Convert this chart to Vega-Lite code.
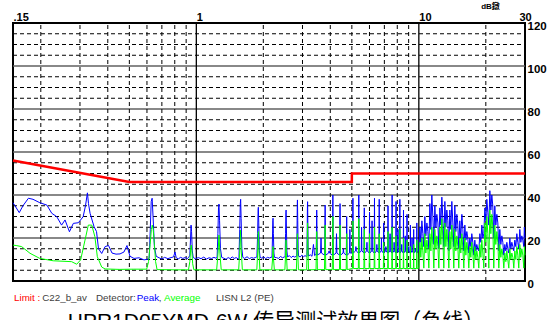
{
"$schema": "https://vega.github.io/schema/vega-lite/v6.json",
"width": 512, "height": 258,
"autosize": {"type": "none"},
"padding": {"left": 13, "top": 23, "right": 27, "bottom": 39},
"background": "#ffffff",
"config": {"view": {"stroke": "#000000", "strokeWidth": 2}},
"title": {"text": "HPR1D05YMD-6W 传导测试效果图（负线）", "orient": "bottom", "anchor": "middle", "font": "Liberation Sans, Noto Sans CJK SC", "fontSize": 21, "fontWeight": "normal", "color": "#000000", "offset": 8, "dx": 7},
"datasets": {
"gyd": [{"v":5,"f":0.15,"f2":30},{"v":10,"f":0.15,"f2":30},{"v":15,"f":0.15,"f2":30},{"v":25,"f":0.15,"f2":30},{"v":30,"f":0.15,"f2":30},{"v":35,"f":0.15,"f2":30},{"v":45,"f":0.15,"f2":30},{"v":50,"f":0.15,"f2":30},{"v":55,"f":0.15,"f2":30},{"v":65,"f":0.15,"f2":30},{"v":70,"f":0.15,"f2":30},{"v":75,"f":0.15,"f2":30},{"v":85,"f":0.15,"f2":30},{"v":90,"f":0.15,"f2":30},{"v":95,"f":0.15,"f2":30},{"v":105,"f":0.15,"f2":30},{"v":110,"f":0.15,"f2":30},{"v":115,"f":0.15,"f2":30}],
"gys": [{"v":20,"f":0.15,"f2":30},{"v":40,"f":0.15,"f2":30},{"v":60,"f":0.15,"f2":30},{"v":80,"f":0.15,"f2":30},{"v":100,"f":0.15,"f2":30}],
"gxd": [{"f":0.2,"v":0,"v2":120},{"f":0.3,"v":0,"v2":120},{"f":0.4,"v":0,"v2":120},{"f":0.5,"v":0,"v2":120},{"f":0.6,"v":0,"v2":120},{"f":0.7,"v":0,"v2":120},{"f":0.8,"v":0,"v2":120},{"f":0.9,"v":0,"v2":120},{"f":2,"v":0,"v2":120},{"f":3,"v":0,"v2":120},{"f":4,"v":0,"v2":120},{"f":5,"v":0,"v2":120},{"f":6,"v":0,"v2":120},{"f":7,"v":0,"v2":120},{"f":8,"v":0,"v2":120},{"f":9,"v":0,"v2":120},{"f":20,"v":0,"v2":120}],
"gxs": [{"f":1,"v":0,"v2":120},{"f":10,"v":0,"v2":120}],
"lim": [{"f":0.15,"v":56},{"f":0.5,"v":46},{"f":5,"v":46},{"f":5.0001,"v":50},{"f":30,"v":50}],
"pk": [
{"f":0.15,"v":36.4},{"f":0.1531,"v":35},{"f":0.16,"v":31.8},{"f":0.1663,"v":35},{"f":0.176,"v":38.5},{"f":0.1845,"v":38},{"f":0.198,"v":36.4},{"f":0.213,"v":35.3},{"f":0.224,"v":31.5},{"f":0.236,"v":29.9},{"f":0.248,"v":26},{"f":0.257,"v":28.4},{"f":0.269,"v":22.9},{"f":0.28,"v":26.8},{"f":0.295,"v":27.1},{"f":0.31,"v":29.9},{"f":0.3176,"v":35},{"f":0.324,"v":41},{"f":0.3276,"v":36},{"f":0.333,"v":31.5},{"f":0.347,"v":25.3},{"f":0.356,"v":23},{"f":0.3634,"v":15},{"f":0.3756,"v":12.8},{"f":0.389,"v":16},{"f":0.403,"v":16.5},{"f":0.418,"v":13},{"f":0.4356,"v":12.5},{"f":0.454,"v":12.6},{"f":0.473,"v":13.5},{"f":0.488,"v":16.5},{"f":0.503,"v":11.5},{"f":0.5247,"v":10.5},{"f":0.553,"v":10.8},{"f":0.582,"v":9.8},{"f":0.607,"v":10.2},
{"f":0.614,"v":10.5},{"f":0.621,"v":24},{"f":0.627,"v":37},{"f":0.633,"v":38.5},{"f":0.639,"v":30},{"f":0.648,"v":16},{"f":0.66,"v":11.5},
{"f":0.68,"v":10.8},{"f":0.7,"v":10.2},{"f":0.72,"v":11.0},{"f":0.745,"v":10.4},{"f":0.77,"v":10.9},{"f":0.79,"v":11.2},{"f":0.802,"v":13.5},{"f":0.812,"v":10.8},{"f":0.83,"v":10.3},{"f":0.85,"v":11.0},{"f":0.87,"v":10.5},{"f":0.89,"v":10.9},{"f":0.91,"v":10.4},{"f":0.925,"v":11},
{"f":0.935,"v":12},{"f":0.942,"v":20},{"f":0.947,"v":26},{"f":0.952,"v":23},{"f":0.959,"v":14},{"f":0.968,"v":11},
{"f":0.99,"v":10.3},{"f":1.02,"v":10.9},{"f":1.05,"v":10.4},{"f":1.08,"v":11.1},{"f":1.11,"v":10.2},{"f":1.14,"v":10.8},{"f":1.17,"v":10.5},{"f":1.2,"v":11.0},{"f":1.225,"v":10.6},
{"f":1.24,"v":11},{"f":1.25,"v":22},{"f":1.258,"v":34},{"f":1.264,"v":35.8},{"f":1.272,"v":28},{"f":1.284,"v":15},{"f":1.3,"v":11},
{"f":1.33,"v":10.6},{"f":1.36,"v":10.1},{"f":1.39,"v":10.9},{"f":1.42,"v":10.4},{"f":1.45,"v":11.2},{"f":1.48,"v":10.5},{"f":1.51,"v":10.9},{"f":1.54,"v":10.3},
{"f":1.555,"v":11},{"f":1.567,"v":24},{"f":1.576,"v":36},{"f":1.582,"v":38},{"f":1.59,"v":29},{"f":1.602,"v":15},{"f":1.618,"v":11},
{"f":1.65,"v":10.5},{"f":1.69,"v":11.3},{"f":1.73,"v":10.4},{"f":1.77,"v":10.9},{"f":1.81,"v":10.6},{"f":1.85,"v":11.0},
{"f":1.872,"v":11.2},{"f":1.886,"v":22},{"f":1.895,"v":33},{"f":1.9,"v":34.3},{"f":1.908,"v":27},{"f":1.92,"v":14},{"f":1.935,"v":11},
{"f":1.97,"v":10.6},{"f":2.01,"v":11.2},{"f":2.05,"v":10.4},{"f":2.09,"v":11.0},{"f":2.13,"v":10.7},{"f":2.17,"v":11.1},
{"f":2.188,"v":11},{"f":2.199,"v":20},{"f":2.207,"v":28},{"f":2.212,"v":29.2},{"f":2.22,"v":22},{"f":2.232,"v":13},{"f":2.245,"v":11},
{"f":2.29,"v":10.9},{"f":2.34,"v":10.5},{"f":2.39,"v":11.4},{"f":2.44,"v":10.8},{"f":2.49,"v":11.2},
{"f":2.507,"v":11.3},{"f":2.518,"v":22},{"f":2.527,"v":32},{"f":2.532,"v":33},{"f":2.54,"v":25},{"f":2.553,"v":14},{"f":2.57,"v":11.2},
{"f":2.62,"v":11.8},{"f":2.67,"v":10.9},{"f":2.72,"v":11.6},{"f":2.77,"v":11.1},{"f":2.81,"v":11.5},
{"f":2.826,"v":11.5},{"f":2.836,"v":25},{"f":2.843,"v":36},{"f":2.848,"v":37.7},{"f":2.856,"v":28},{"f":2.868,"v":15},{"f":2.882,"v":11.5},
{"f":2.93,"v":11.2},{"f":2.98,"v":12.0},{"f":3.03,"v":11.3},{"f":3.08,"v":11.8},{"f":3.125,"v":11.4},
{"f":3.142,"v":11.7},{"f":3.151,"v":25},{"f":3.158,"v":35},{"f":3.163,"v":36.9},{"f":3.17,"v":28},{"f":3.18,"v":15},{"f":3.195,"v":11.6},
{"f":3.25,"v":12.2},{"f":3.31,"v":11.5},{"f":3.36,"v":17},{"f":3.4,"v":11.8},{"f":3.44,"v":12.3},
{"f":3.456,"v":12},{"f":3.476,"v":33},{"f":3.496,"v":12},{"f":3.616,"v":13},{"f":3.634,"v":20},{"f":3.652,"v":13},
{"f":3.772,"v":12},{"f":3.792,"v":35.3},{"f":3.812,"v":12},{"f":3.932,"v":13},{"f":3.95,"v":14},{"f":3.968,"v":13},
{"f":4.088,"v":12},{"f":4.108,"v":40},{"f":4.128,"v":12},{"f":4.248,"v":13},{"f":4.266,"v":22},{"f":4.284,"v":13},
{"f":4.404,"v":12},{"f":4.424,"v":36},{"f":4.444,"v":12},{"f":4.564,"v":13},{"f":4.582,"v":15},{"f":4.6,"v":13},
{"f":4.72,"v":12},{"f":4.74,"v":30},{"f":4.76,"v":12},{"f":4.88,"v":13},{"f":4.898,"v":24},{"f":4.916,"v":13},
{"f":5.036,"v":13},{"f":5.056,"v":38.5},{"f":5.076,"v":13},{"f":5.196,"v":14},{"f":5.214,"v":16},{"f":5.232,"v":14},
{"f":5.352,"v":13},{"f":5.372,"v":40},{"f":5.392,"v":13},{"f":5.512,"v":14},{"f":5.53,"v":25},{"f":5.548,"v":14},
{"f":5.668,"v":13},{"f":5.688,"v":34},{"f":5.708,"v":13},{"f":5.828,"v":14},{"f":5.846,"v":18},{"f":5.864,"v":14},
{"f":5.984,"v":13},{"f":6.004,"v":32},{"f":6.024,"v":13},{"f":6.144,"v":14},{"f":6.162,"v":28},{"f":6.18,"v":14},
{"f":6.3,"v":13},{"f":6.32,"v":38.5},{"f":6.34,"v":13},{"f":6.46,"v":14},{"f":6.478,"v":17},{"f":6.496,"v":14},
{"f":6.616,"v":13},{"f":6.636,"v":38},{"f":6.656,"v":13},{"f":6.776,"v":14},{"f":6.794,"v":20},{"f":6.812,"v":14},
{"f":6.932,"v":13},{"f":6.952,"v":27},{"f":6.972,"v":13},{"f":7.092,"v":14},{"f":7.11,"v":16},{"f":7.128,"v":14},
{"f":7.248,"v":13},{"f":7.268,"v":35},{"f":7.288,"v":13},{"f":7.408,"v":14},{"f":7.426,"v":22},{"f":7.444,"v":14},
{"f":7.564,"v":13},{"f":7.584,"v":40},{"f":7.604,"v":13},{"f":7.724,"v":14},{"f":7.742,"v":18},{"f":7.76,"v":14},
{"f":7.88,"v":13},{"f":7.9,"v":37},{"f":7.92,"v":13},{"f":8.04,"v":14},{"f":8.058,"v":24},{"f":8.076,"v":14},
{"f":8.196,"v":13},{"f":8.216,"v":38},{"f":8.236,"v":13},{"f":8.356,"v":14},{"f":8.374,"v":17},{"f":8.392,"v":14},
{"f":8.512,"v":13},{"f":8.532,"v":33},{"f":8.552,"v":13},{"f":8.672,"v":14},{"f":8.69,"v":21},{"f":8.708,"v":14},
{"f":8.828,"v":13},{"f":8.848,"v":31},{"f":8.868,"v":13},{"f":8.988,"v":14},{"f":9.006,"v":16},{"f":9.024,"v":14},
{"f":9.144,"v":13},{"f":9.164,"v":26},{"f":9.184,"v":13},{"f":9.304,"v":14},{"f":9.322,"v":20},{"f":9.34,"v":14},
{"f":9.46,"v":13},{"f":9.48,"v":24},{"f":9.5,"v":13},{"f":9.62,"v":14},{"f":9.638,"v":15},{"f":9.656,"v":14},
{"f":9.776,"v":13},{"f":9.796,"v":27},{"f":9.816,"v":13},{"f":9.9,"v":14},
{"f":10.0,"v":14},{"f":10.11,"v":25},{"f":10.21,"v":18},{"f":10.32,"v":28},{"f":10.42,"v":22},
{"f":10.53,"v":16},{"f":10.64,"v":30},{"f":10.75,"v":21},{"f":10.87,"v":27},{"f":10.98,"v":23},
{"f":11.09,"v":15},{"f":11.21,"v":36},{"f":11.33,"v":24},{"f":11.44,"v":40},{"f":11.56,"v":30},
{"f":11.68,"v":17},{"f":11.8,"v":35},{"f":11.93,"v":25},{"f":12.05,"v":31},{"f":12.18,"v":27},
{"f":12.3,"v":15},{"f":12.43,"v":34},{"f":12.56,"v":26},{"f":12.69,"v":39},{"f":12.82,"v":29},
{"f":12.95,"v":16},{"f":13.09,"v":37},{"f":13.23,"v":25},{"f":13.36,"v":33},{"f":13.5,"v":28},
{"f":13.64,"v":14},{"f":13.78,"v":33},{"f":13.93,"v":24},{"f":14.07,"v":37},{"f":14.22,"v":27},
{"f":14.36,"v":16},{"f":14.51,"v":35},{"f":14.66,"v":23},{"f":14.82,"v":31},{"f":14.97,"v":26},
{"f":15.12,"v":15},{"f":15.28,"v":28},{"f":15.44,"v":20},{"f":15.61,"v":31},{"f":15.77,"v":24},
{"f":15.93,"v":14},{"f":16.1,"v":26},{"f":16.27,"v":19},{"f":16.43,"v":23},{"f":16.6,"v":20},
{"f":16.77,"v":13},{"f":16.95,"v":20},{"f":17.13,"v":16},{"f":17.3,"v":22},{"f":17.48,"v":18},
{"f":17.66,"v":12},{"f":17.85,"v":19},{"f":18.04,"v":14},{"f":18.22,"v":17},{"f":18.41,"v":15},
{"f":18.6,"v":14},{"f":18.8,"v":22},{"f":19.0,"v":18},{"f":19.19,"v":26},{"f":19.39,"v":20},
{"f":19.59,"v":22},{"f":19.8,"v":34},{"f":20.01,"v":28},{"f":20.21,"v":38},{"f":20.42,"v":32},
{"f":20.63,"v":26},{"f":20.85,"v":42},{"f":21.07,"v":33},{"f":21.28,"v":40},{"f":21.5,"v":35},
{"f":21.72,"v":20},{"f":21.95,"v":35},{"f":22.18,"v":26},{"f":22.42,"v":31},{"f":22.65,"v":27},
{"f":22.88,"v":14},{"f":23.12,"v":24},{"f":23.36,"v":17},{"f":23.61,"v":21},{"f":23.85,"v":18},
{"f":24.09,"v":12},{"f":24.35,"v":17},{"f":24.6,"v":14},{"f":24.86,"v":18},{"f":25.11,"v":15},
{"f":25.37,"v":13},{"f":25.64,"v":20},{"f":25.91,"v":15},{"f":26.18,"v":18},{"f":26.45,"v":16},
{"f":26.72,"v":14},{"f":27.0,"v":19},{"f":27.28,"v":16},{"f":27.57,"v":22},{"f":27.85,"v":18},
{"f":28.13,"v":15},{"f":28.43,"v":24},{"f":28.73,"v":18},{"f":29.03,"v":21},{"f":29.33,"v":19},
{"f":29.63,"v":16},{"f":29.8,"v":25},{"f":30.0,"v":20}
],
"av": [
{"f":0.15,"v":16.7},{"f":0.155,"v":16.5},{"f":0.164,"v":16},{"f":0.1788,"v":12.9},{"f":0.198,"v":10.5},{"f":0.2276,"v":9.4},{"f":0.275,"v":9.0},{"f":0.29,"v":7.8},{"f":0.302,"v":9.8},{"f":0.316,"v":19},{"f":0.327,"v":26},{"f":0.339,"v":26},{"f":0.35,"v":20.6},{"f":0.359,"v":11.3},{"f":0.3756,"v":6.5},{"f":0.389,"v":5.6},{"f":0.45,"v":5.4},{"f":0.52,"v":5.5},{"f":0.598,"v":5.5},
{"f":0.61,"v":9},{"f":0.62,"v":17},{"f":0.628,"v":24},{"f":0.634,"v":26},{"f":0.64,"v":24},{"f":0.648,"v":17},{"f":0.656,"v":9},{"f":0.666,"v":5.3},
{"f":0.8,"v":5.2},{"f":0.922,"v":5.2},
{"f":0.935,"v":9},{"f":0.943,"v":15},{"f":0.949,"v":16.7},{"f":0.955,"v":14},{"f":0.963,"v":8},{"f":0.975,"v":5.2},
{"f":1.1,"v":5.2},
{"f":1.234,"v":5.2},{"f":1.252,"v":13},{"f":1.264,"v":21.4},{"f":1.276,"v":13},{"f":1.294,"v":5.2},
{"f":1.55,"v":5.2},{"f":1.568,"v":14},{"f":1.58,"v":23.7},{"f":1.592,"v":14},{"f":1.61,"v":5.2},
{"f":1.87,"v":5.2},{"f":1.888,"v":14},{"f":1.9,"v":23},{"f":1.912,"v":14},{"f":1.93,"v":5.2},
{"f":2.182,"v":5.2},{"f":2.2,"v":10},{"f":2.212,"v":16},{"f":2.224,"v":10},{"f":2.242,"v":5.2},
{"f":2.5,"v":5.2},{"f":2.518,"v":12},{"f":2.53,"v":19},{"f":2.542,"v":12},{"f":2.56,"v":5.2},
{"f":2.816,"v":5.2},{"f":2.834,"v":13},{"f":2.846,"v":22},{"f":2.858,"v":13},{"f":2.876,"v":5.2},
{"f":3.132,"v":5.2},{"f":3.15,"v":16},{"f":3.162,"v":27},{"f":3.174,"v":16},{"f":3.192,"v":5.2},
{"f":3.451,"v":5.3},{"f":3.476,"v":23},{"f":3.501,"v":5.3},
{"f":3.767,"v":5.3},{"f":3.792,"v":26},{"f":3.817,"v":5.3},
{"f":4.083,"v":5.3},{"f":4.108,"v":30},{"f":4.133,"v":5.3},
{"f":4.399,"v":5.3},{"f":4.424,"v":26},{"f":4.449,"v":5.3},
{"f":4.715,"v":5.3},{"f":4.74,"v":22},{"f":4.765,"v":5.3},
{"f":5.031,"v":5.8},{"f":5.056,"v":28},{"f":5.081,"v":5.8},
{"f":5.347,"v":5.8},{"f":5.372,"v":29},{"f":5.397,"v":5.8},
{"f":5.663,"v":5.8},{"f":5.688,"v":24},{"f":5.713,"v":5.8},
{"f":5.979,"v":5.8},{"f":6.004,"v":22},{"f":6.029,"v":5.8},
{"f":6.295,"v":5.8},{"f":6.32,"v":25},{"f":6.345,"v":5.8},
{"f":6.611,"v":5.8},{"f":6.636,"v":22},{"f":6.661,"v":5.8},
{"f":6.927,"v":5.8},{"f":6.952,"v":18},{"f":6.977,"v":5.8},
{"f":7.243,"v":5.8},{"f":7.268,"v":23},{"f":7.293,"v":5.8},
{"f":7.559,"v":5.8},{"f":7.584,"v":25},{"f":7.609,"v":5.8},
{"f":7.875,"v":5.8},{"f":7.9,"v":21},{"f":7.925,"v":5.8},
{"f":8.191,"v":5.8},{"f":8.216,"v":24},{"f":8.241,"v":5.8},
{"f":8.507,"v":5.8},{"f":8.532,"v":20},{"f":8.557,"v":5.8},
{"f":8.823,"v":5.8},{"f":8.848,"v":19},{"f":8.873,"v":5.8},
{"f":9.139,"v":5.8},{"f":9.164,"v":16},{"f":9.189,"v":5.8},
{"f":9.455,"v":5.8},{"f":9.48,"v":17},{"f":9.505,"v":5.8},
{"f":9.771,"v":5.8},{"f":9.796,"v":19},{"f":9.821,"v":5.8},
{"f":10.0,"v":6},{"f":10.11,"v":18},{"f":10.21,"v":11},{"f":10.32,"v":20},{"f":10.42,"v":14},
{"f":10.53,"v":6},{"f":10.64,"v":22},{"f":10.75,"v":13},{"f":10.87,"v":19},{"f":10.98,"v":15},
{"f":11.09,"v":6},{"f":11.21,"v":22},{"f":11.33,"v":14},{"f":11.44,"v":25},{"f":11.56,"v":17},
{"f":11.68,"v":6},{"f":11.8,"v":24},{"f":11.93,"v":15},{"f":12.05,"v":21},{"f":12.18,"v":16},
{"f":12.3,"v":6},{"f":12.43,"v":25},{"f":12.56,"v":17},{"f":12.69,"v":29},{"f":12.82,"v":20},
{"f":12.95,"v":6},{"f":13.09,"v":27},{"f":13.23,"v":16},{"f":13.36,"v":24},{"f":13.5,"v":18},
{"f":13.64,"v":6},{"f":13.78,"v":23},{"f":13.93,"v":15},{"f":14.07,"v":26},{"f":14.22,"v":18},
{"f":14.36,"v":6},{"f":14.51,"v":24},{"f":14.66,"v":14},{"f":14.82,"v":21},{"f":14.97,"v":16},
{"f":15.12,"v":6},{"f":15.28,"v":20},{"f":15.44,"v":13},{"f":15.61,"v":22},{"f":15.77,"v":15},
{"f":15.93,"v":6},{"f":16.1,"v":20},{"f":16.27,"v":12},{"f":16.43,"v":18},{"f":16.6,"v":14},
{"f":16.77,"v":6},{"f":16.95,"v":16},{"f":17.13,"v":11},{"f":17.3,"v":18},{"f":17.48,"v":13},
{"f":17.66,"v":6},{"f":17.85,"v":16},{"f":18.04,"v":10},{"f":18.22,"v":14},{"f":18.41,"v":11},
{"f":18.6,"v":6},{"f":18.8,"v":17},{"f":19.0,"v":11},{"f":19.19,"v":19},{"f":19.39,"v":13},
{"f":19.59,"v":6},{"f":19.8,"v":27},{"f":20.01,"v":18},{"f":20.21,"v":30},{"f":20.42,"v":22},
{"f":20.63,"v":6},{"f":20.85,"v":33},{"f":21.07,"v":22},{"f":21.28,"v":31},{"f":21.5,"v":25},
{"f":21.72,"v":6},{"f":21.95,"v":26},{"f":22.18,"v":17},{"f":22.42,"v":23},{"f":22.65,"v":18},
{"f":22.88,"v":6},{"f":23.12,"v":17},{"f":23.36,"v":11},{"f":23.61,"v":15},{"f":23.85,"v":12},
{"f":24.09,"v":6},{"f":24.35,"v":13},{"f":24.6,"v":9},{"f":24.86,"v":14},{"f":25.11,"v":10},
{"f":25.37,"v":6},{"f":25.64,"v":15},{"f":25.91,"v":10},{"f":26.18,"v":13},{"f":26.45,"v":11},
{"f":26.72,"v":6},{"f":27.0,"v":14},{"f":27.28,"v":10},{"f":27.57,"v":16},{"f":27.85,"v":12},
{"f":28.13,"v":6},{"f":28.43,"v":17},{"f":28.73,"v":11},{"f":29.03,"v":15},{"f":29.33,"v":12},
{"f":29.63,"v":6},{"f":29.8,"v":16},{"f":30.0,"v":12}
],
"leg": [
{"f":0.1516,"v":-9.5,"t":"Limit :","c":"#ff0000"},
{"f":0.203,"v":-9.5,"t":"C22_b_av","c":"#404040"},
{"f":0.354,"v":-9.5,"t":"Detector:","c":"#404040"},
{"f":0.54,"v":-9.5,"t":"Peak","c":"#0000ff"},
{"f":0.678,"v":-9.5,"t":",","c":"#404040"},
{"f":0.716,"v":-9.5,"t":"Average","c":"#00ff00"},
{"f":1.226,"v":-9.5,"t":"LISN L2 (PE)","c":"#404040"}
],
"unit": [{"f":21.0,"v":126.4,"t":"dB鐓"}]
},
"encoding": {
 "x": {"field": "f", "type": "quantitative", "scale": {"type": "log", "domain": [0.15, 30], "nice": false},
   "axis": {"orient": "top", "values": [0.15, 1, 10, 30], "labelExpr": "datum.value < 0.2 ? '.15' : '' + datum.value", "title": null, "grid": false, "ticks": false, "domain": false, "labelFont": "Liberation Sans", "labelFontSize": 11, "labelFontWeight": "bold", "labelColor": "#000000", "labelPadding": 1, "labelAlign": {"condition": {"test": "datum.value > 20", "value": "center"}, "value": "left"}, "labelFlush": false, "labelOverlap": false, "labelBound": false}},
 "y": {"field": "v", "type": "quantitative", "scale": {"domain": [0, 120], "nice": false, "zero": false},
   "axis": {"orient": "right", "values": [0, 20, 40, 60, 80, 100, 120], "title": null, "grid": false, "ticks": false, "domain": false, "labelFont": "Liberation Sans", "labelFontSize": 11.5, "labelFontWeight": "bold", "labelColor": "#000000", "labelPadding": 2, "labelAlign": "left", "labelBaseline": "middle", "labelOffset": 3, "labelFlush": false, "labelOverlap": false, "labelBound": false}}
},
"layer": [
{"data": {"name": "gyd"}, "mark": {"type": "rule", "color": "#000000", "strokeWidth": 1, "strokeDash": [4, 3]}, "encoding": {"x2": {"field": "f2"}}},
{"data": {"name": "gys"}, "mark": {"type": "rule", "color": "#606060", "strokeWidth": 1.5}, "encoding": {"x2": {"field": "f2"}}},
{"data": {"name": "gxd"}, "mark": {"type": "rule", "color": "#000000", "strokeWidth": 1, "strokeDash": [4, 3]}, "encoding": {"y2": {"field": "v2"}}},
{"data": {"name": "gxs"}, "mark": {"type": "rule", "color": "#000000", "strokeWidth": 1.3}, "encoding": {"y2": {"field": "v2"}}},
{"data": {"name": "pk"}, "mark": {"type": "line", "color": "#0000ff", "strokeWidth": 1}, "encoding": {}},
{"data": {"name": "av"}, "mark": {"type": "line", "color": "#00ff00", "strokeWidth": 1}, "encoding": {}},
{"data": {"name": "lim"}, "mark": {"type": "line", "color": "#ff0000", "strokeWidth": 2.5}, "encoding": {}},
{"data": {"name": "leg"}, "mark": {"type": "text", "align": "left", "baseline": "alphabetic", "font": "Liberation Sans", "fontSize": 9.8},
 "encoding": {"text": {"field": "t"}, "color": {"field": "c", "type": "nominal", "scale": null}}},
{"data": {"name": "unit"}, "mark": {"type": "text", "align": "center", "baseline": "alphabetic", "font": "Liberation Sans, Noto Sans CJK SC", "fontSize": 8, "fontWeight": "bold", "color": "#000000"},
 "encoding": {"text": {"field": "t"}}}
]
}
